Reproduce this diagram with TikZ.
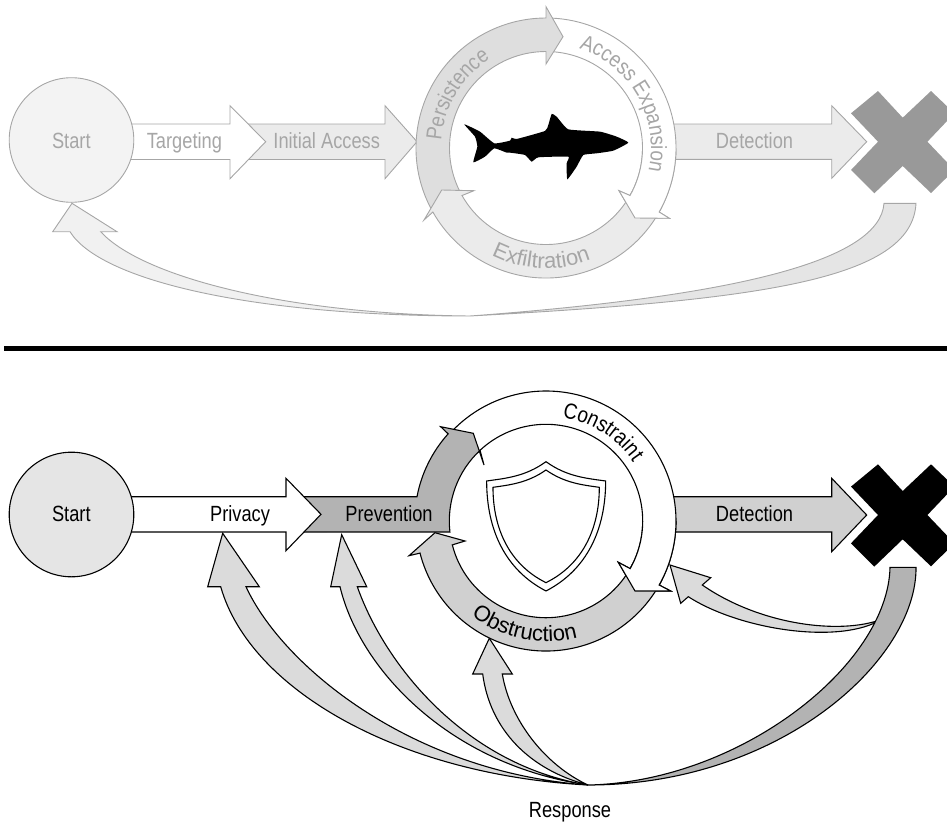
\documentclass[tikz,border=0pt]{standalone}
\usepackage{fontspec}
\usetikzlibrary{decorations.text}
\newfontfamily\labfont[FakeStretch=0.83]{Liberation Sans}
\newfontfamily\curvfont[FakeStretch=0.86]{Liberation Sans}
\newfontfamily\widefont[FakeStretch=1.0]{Liberation Sans}
\newcommand\labsize{\labfont\fontsize{22}{26}\selectfont}
\newcommand\curvsize{\curvfont\fontsize{22}{26}\selectfont}
\newcommand\widesize{\widefont\fontsize{22}{26}\selectfont}
\definecolor{tline}{HTML}{A6A6A6}
\definecolor{tlight}{HTML}{EBEBEB}
\definecolor{tmid}{HTML}{DEDEDE}
\definecolor{tx}{HTML}{999999}
\definecolor{bmid}{HTML}{D0D0D0}
\definecolor{bdark}{HTML}{B3B3B3}
\definecolor{bres}{HTML}{DBDBDB}
\tikzset{
  topshape/.style={draw=tline,line width=0.9pt,line join=miter},
  botshape/.style={draw=black,line width=1.1pt,line join=miter},
  toplab/.style={text=tline,font=\labsize,inner sep=0pt,anchor=base},
  botlab/.style={text=black,font=\labsize,inner sep=0pt,anchor=base},
}
\newcommand\curved[7]{% colour, centre, radius, start, end, font, text
  \path[decorate,decoration={text along path,text align=center,text color=#1,text={|#6|#7}}]
    ([shift={(#2)}]#4:#3) arc[start angle=#4,end angle=#5,radius=#3];}
\newcommand\crossmark{(-24.7,-50.7) -- (-51.7,-28.4) -- (-24.7,0) -- (-51.7,28.3) -- (-28.4,51.6) -- (0,24.3) -- (28.3,51.3) -- (51.7,28.3) -- (24.7,0) -- (51.7,-28.4) -- (28.3,-50.7) -- (0,-24) -- cycle}
\begin{document}
\begin{tikzpicture}[x=1pt,y=-1pt]
\useasboundingbox (0,0) rectangle (947,822);
\clip (0,0) rectangle (947,822);
\coordinate (Ct) at (546,148);
\coordinate (Cb) at (546,521);

%% ---------- top panel ----------
% return arrow
\path[topshape,fill=tmid!80!white] (884,203.3) .. controls (880,260) and (740,296) .. (470,316)
  .. controls (760,300) and (912,280) .. (916,203.3) -- cycle;
\path[topshape,fill=tlight!70!white] (72,203.3) -- (52.7,231.7) -- (70,231.7)
  .. controls (100,280) and (250,316) .. (470,316)
  .. controls (280,314) and (140,275) .. (100.7,231.7) -- (117,231.7) -- cycle;
% straight arrows
\path[topshape,fill=tlight] (245,124) -- (385,124) -- (385,105.7) -- (417,141.7) -- (385,178.7) -- (385,159.5) -- (245,159.5) -- cycle;
\path[topshape,fill=white] (125,124) -- (230,124) -- (230,105.7) -- (265.7,141.7) -- (230,178.7) -- (230,159.5) -- (125,159.5) -- cycle;
\node[circle,topshape,fill=tlight!60!white,minimum size=124.6pt,inner sep=0pt] (starttop) at (71.5,140) {};
\path[topshape,fill=tlight] (670,124) -- (831.7,124) -- (831.7,105.7) -- (866.7,141.7) -- (831.7,178.3) -- (831.7,159.3) -- (670,159.3) -- cycle;
\fill[tx,shift={(902.7,141.7)}] \crossmark;
% ring
\path[topshape,fill=white] ([shift={(Ct)}]270:130) arc[start angle=270,end angle=389.5,radius=130]
  -- (669.3,218.3) -- (635,218) -- (619,190.7) -- ([shift={(Ct)}]389.5:96.5) arc[start angle=389.5,end angle=270,radius=96.5] -- cycle;
\path[topshape,fill=tmid] ([shift={(Ct)}]150:130) arc[start angle=150,end angle=270,radius=130]
  -- (546,6.7) -- (563,36.7) -- (546,64) -- ([shift={(Ct)}]270:96.5) arc[start angle=270,end angle=150,radius=96.5] -- cycle;
\path[topshape,fill=tlight] ([shift={(Ct)}]27:130) arc[start angle=27,end angle=150.5,radius=130]
  -- (424,220) -- (441.7,190) -- (474,190.7) -- ([shift={(Ct)}]150.5:96.5) arc[start angle=150.5,end angle=27,radius=96.5] -- cycle;
\path[topshape,fill=white] ([shift={(Ct)}]360:130) arc[start angle=360,end angle=389.5,radius=130]
  -- (669.3,218.3) -- (635,218) -- (619,190.7) -- ([shift={(Ct)}]389.5:96.5) arc[start angle=389.5,end angle=360,radius=96.5];
% shark
\begin{scope}[shift={(400,0)},x=0.3333pt,y=-0.3333pt]
\fill[black] plot[smooth cycle,tension=0.25] coordinates {(193,373) (240,395) (283,430) (330,422) (335,413) (350,417) (435,393) (445,375) (455,342) (470,350) (505,388) (600,395) (650,410) (685,428) (640,452) (590,460) (550,465) (530,500) (502,538) (500,490) (505,470) (415,472) (395,485) (375,465) (330,458) (320,458) (283,445) (255,470) (220,487) (232,440) (225,410)};
\end{scope}
% labels
\node[toplab] (lstarttop) at (71.3,148.5) {Start};
\node[toplab] (ltarget) at (184.4,148.5) {Targeting};
\node[toplab] (linit) at (326.7,148.5) {Initial Access};
\node[toplab] (ldettop) at (754.5,148.5) {Detection};
\curved{tline}{Ct}{105}{170}{252}{\curvsize}{Persistence}
\curved{tline}{Ct}{105}{260}{401}{\curvsize}{Access Expansion}
\curved{tline}{Ct}{120.5}{150}{35}{\widesize}{Exfiltration}

%% ---------- divider ----------
\fill[black] (4,346) rectangle (947,350.7);

%% ---------- bottom panel ----------
\path[botshape,fill=bres] (670,565) -- (710.7,577.7) -- (702.3,585)
  .. controls (760,625) and (840,635) .. (881.7,619.3)
  .. controls (840,645) and (740,630) .. (688.3,596.7) -- (680.7,603.3) -- cycle;
\path[botshape,fill=bdark] (890,567.3) .. controls (888,665) and (740,782) .. (588,785)
  .. controls (780,785) and (917,660) .. (916,567.3) -- cycle;
\path[botshape,fill=bres] (222.7,533.3) -- (207.7,586.7) -- (220.7,586.7)
  .. controls (250,690) and (400,775) .. (588,785)
  .. controls (410,772) and (282,665) .. (246,586.7) -- (259.3,586.7) -- cycle;
\path[botshape,fill=bres] (341.7,534.7) -- (330.7,586.7) -- (340,586.7)
  .. controls (360,670) and (450,765) .. (588,785)
  .. controls (465,765) and (385,665) .. (357.3,586.7) -- (366.7,586.7) -- cycle;
\path[botshape,fill=bres] (489.3,638.3) -- (472.7,674) -- (482.7,674)
  .. controls (490,730) and (530,770) .. (588,785)
  .. controls (545,765) and (510,720) .. (502.3,674) -- (512.3,674) -- cycle;
\path[botshape,fill=bmid] (670,496.7) -- (831.7,496.7) -- (831.7,478.3) -- (866.7,515) -- (831.7,551.7) -- (831.7,532) -- (670,532) -- cycle;
\fill[black,shift={(902.7,515)}] \crossmark;
% ring
\path[botshape,fill=white] ([shift={(Cb)}]225:130) arc[start angle=225,end angle=389.5,radius=130]
  -- (670.7,591) -- (635,591) -- (618.3,562.3) -- ([shift={(Cb)}]389.5:96.7) arc[start angle=389.5,end angle=225,radius=96.7] -- cycle;
\path[botshape,fill=bdark] (303,496.7) -- (417,496.7) arc[start angle=190.7,end angle=222,radius=130]
  -- (440.7,426.7) -- (473.3,433.3) -- (484,465) -- ([shift={(Cb)}]227:96.7) arc[start angle=227,end angle=173.5,radius=96.7] -- (303,532) -- cycle;
\path[botshape,fill=white] (125,496.7) -- (286,496.7) -- (286,478.3) -- (321,514.3) -- (286,550.7) -- (286,532) -- (125,532) -- cycle;
\node[circle,botshape,fill=black!10,minimum size=124.6pt,inner sep=0pt] (startbot) at (71.5,514.5) {};
\path[botshape,fill=bmid] ([shift={(Cb)}]27:130) arc[start angle=27,end angle=165.7,radius=130]
  -- (409,555.7) -- (435,532.7) -- (465,541) -- ([shift={(Cb)}]165.7:96.7) arc[start angle=165.7,end angle=27,radius=96.7] -- cycle;
\path[botshape,fill=white] ([shift={(Cb)}]360:130) arc[start angle=360,end angle=389.5,radius=130]
  -- (670.7,591) -- (635,591) -- (618.3,562.3) -- ([shift={(Cb)}]389.5:96.7) arc[start angle=389.5,end angle=360,radius=96.7];
% shield
\begin{scope}[shift={(400,380)},x=0.3333pt,y=-0.3333pt]
\path[botshape,fill=white] (438,245) .. controls (500,290) and (560,295) .. (617,303)
  .. controls (617,450) and (560,570) .. (438,633)
  .. controls (316,570) and (260,450) .. (260,303)
  .. controls (316,295) and (376,290) .. (438,245) -- cycle;
\path[botshape] (438,270) .. controls (495,310) and (550,315) .. (598,322)
  .. controls (598,450) and (545,555) .. (438,608)
  .. controls (331,555) and (279,450) .. (279,322)
  .. controls (326,315) and (381,310) .. (438,270) -- cycle;
\end{scope}
% labels
\node[botlab] (lstartbot) at (71.3,521.5) {Start};
\node[botlab] (lpriv) at (240,521.5) {Privacy};
\node[botlab] (lprev) at (389,521.5) {Prevention};
\node[botlab] (ldetbot) at (754.5,521.5) {Detection};
\node[botlab] (lresp) at (570,817.5) {Response};
\curved{black}{Cb}{105}{240}{365}{\curvsize}{Constraint}
\curved{black}{Cb}{120.5}{160}{43}{\widesize}{Obstruction}
\end{tikzpicture}
\end{document}
